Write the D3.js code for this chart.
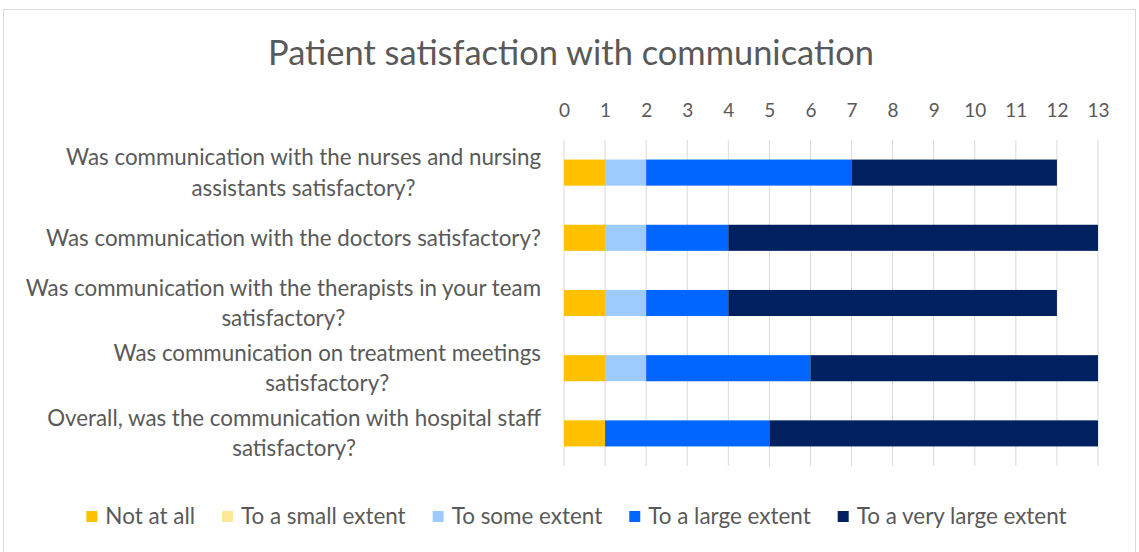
<!DOCTYPE html>
<html><head><meta charset="utf-8">
<script src="https://cdn.jsdelivr.net/npm/d3@7"></script>
<style>
html,body{margin:0;padding:0;background:#fff;}
svg{display:block;}
</style></head>
<body>
<svg id="chart" width="1139" height="552"></svg>
<script>
const categories = [
  ["Was communication with the nurses and nursing", "assistants satisfactory?"],
  ["Was communication with the doctors satisfactory?"],
  ["Was communication with the therapists in your team", "satisfactory?"],
  ["Was communication on treatment meetings", "satisfactory?"],
  ["Overall, was the communication with hospital staff", "satisfactory?"]
];
const seriesNames = ["Not at all", "To a small extent", "To some extent", "To a large extent", "To a very large extent"];
const notAtAll      = [1, 1, 1, 1, 1];
const smallExtent   = [0, 0, 0, 0, 0];
const someExtent    = [1, 1, 1, 1, 0];
const largeExtent   = [5, 2, 2, 4, 4];
const veryLarge     = [5, 9, 8, 7, 8];
const tickValues = [0,1,2,3,4,5,6,7,8,9,10,11,12,13];
const colors = ["#FFC000", "#FFE699", "#9DCBFF", "#0066FF", "#002060"];
const title = "Patient satisfaction with communication";

const FONT = "Lato, 'Open Sans', sans-serif";
const TXT = "#595959";
const svg = d3.select("#chart");

// chart border
svg.append("rect").attr("x", 3.5).attr("y", 9.5).attr("width", 1132).attr("height", 560)
  .attr("fill", "#fff").attr("stroke", "#D9D9D9").attr("stroke-width", 1);

function fitSize(sel, target, base) {
  const w = sel.node().getComputedTextLength();
  const s = base * target / w;
  sel.attr("font-size", s);
  return s;
}

// title
const t = svg.append("text").attr("x", 571).attr("y", 65).attr("text-anchor", "middle")
  .attr("font-family", FONT).attr("font-size", 30).attr("fill", TXT).text(title);
fitSize(t, 606, 30);

const rows = categories.map((c, i) => ({
  key: i, lines: c,
  vals: [notAtAll[i], smallExtent[i], someExtent[i], largeExtent[i], veryLarge[i]]
}));

const x = d3.scaleLinear().domain([0, 13]).range([564, 1098]);
const y = d3.scaleBand().domain(rows.map(r => r.key)).range([140, 466]).paddingInner(0.6).paddingOuter(0.3);

// gridlines
svg.append("g").selectAll("line").data(tickValues).join("line")
  .attr("x1", d => x(d)).attr("x2", d => x(d)).attr("y1", 140).attr("y2", 466)
  .attr("stroke", "#D9D9D9").attr("stroke-width", 1);

// top axis labels
const ax = svg.append("g").attr("transform", "translate(0,117)")
  .call(d3.axisTop(x).tickValues(tickValues).tickSize(0).tickPadding(0).tickFormat(d3.format("d")));
ax.select(".domain").remove();
ax.selectAll("text").attr("font-family", FONT).attr("font-size", 19).attr("fill", TXT);

// stacked bars
const stackData = rows.map(r => {
  const o = {key: r.key};
  seriesNames.forEach((n, j) => o[n] = r.vals[j]);
  return o;
});
const stacked = d3.stack().keys(seriesNames)(stackData);
svg.append("g").selectAll("g").data(stacked).join("g")
  .attr("fill", (d, i) => colors[i])
  .selectAll("rect").data(d => d.filter(s => s[1] - s[0] > 0)).join("rect")
  .attr("x", d => x(d[0])).attr("width", d => x(d[1]) - x(d[0]))
  .attr("y", d => y(d.data.key)).attr("height", y.bandwidth());

// category labels
const labSize = (() => {
  const tmp = svg.append("text").attr("font-family", FONT).attr("font-size", 20).text(categories[1][0]);
  const w = tmp.node().getComputedTextLength();
  tmp.remove();
  return 20 * 495 / w;
})();
const lineH = 30.5;
rows.forEach(r => {
  const g = svg.append("g");
  const texts = r.lines.map((ln, k) => g.append("text").attr("font-family", FONT)
    .attr("font-size", labSize).attr("fill", TXT).attr("text-anchor", "middle").text(ln));
  const maxW = d3.max(texts, tx => tx.node().getComputedTextLength());
  const cx = 541 - maxW / 2;
  const cy = y(r.key) + y.bandwidth() / 2;
  const n = r.lines.length;
  texts.forEach((tx, k) => {
    tx.attr("x", cx).attr("y", cy + (k - (n - 1) / 2) * lineH + labSize * 0.35);
  });
});

// legend
const legG = svg.append("g");
const legSize = (() => {
  const tmp = svg.append("text").attr("font-family", FONT).attr("font-size", 20).text(seriesNames[4]);
  const w = tmp.node().getComputedTextLength();
  tmp.remove();
  return 20 * 210 / w;
})();
const items = seriesNames.map((n, i) => {
  const tx = legG.append("text").attr("font-family", FONT).attr("font-size", legSize)
    .attr("fill", TXT).attr("y", 524).text(n);
  return {n, i, tx, w: tx.node().getComputedTextLength()};
});
const mk = 11, gapM = 8, gapI = 27;
const total = d3.sum(items, d => mk + gapM + d.w) + gapI * (items.length - 1);
let cur = 576.5 - total / 2;
items.forEach(d => {
  legG.append("rect").attr("x", cur).attr("y", 511).attr("width", mk).attr("height", mk).attr("fill", colors[d.i]);
  d.tx.attr("x", cur + mk + gapM);
  cur += mk + gapM + d.w + gapI;
});
</script>
</body></html>
